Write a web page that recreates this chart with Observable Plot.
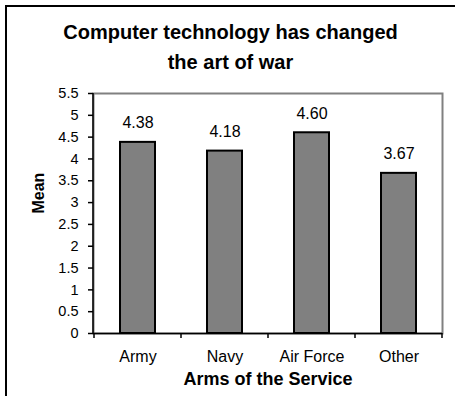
<!DOCTYPE html>
<html>
<head>
<meta charset="utf-8">
<script src="https://cdn.jsdelivr.net/npm/d3@7"></script>
<script src="https://cdn.jsdelivr.net/npm/@observablehq/plot@0.6"></script>
<style>
  html, body { margin: 0; padding: 0; background: #fff; }
  #chart {
    position: relative; width: 455px; height: 396px; overflow: hidden;
    font-family: "Liberation Sans", Arial, sans-serif;
  }
  #chart .border {
    position: absolute; left: 5px; top: 5px; width: 460px; height: 400px;
    border-left: 2px solid #000; border-top: 2px solid #000;
  }
  #chart h1 {
    position: relative; margin: 0; padding-top: 17px; height: 60px;
    font-size: 20px; line-height: 30px; font-weight: bold; text-align: center;
    padding-left: 6px; box-sizing: content-box;
  }
  #chart svg { position: relative; display: block; }
</style>
</head>
<body>
<div id="chart">
  <div class="border"></div>
  <h1>Computer technology has changed<br>the art of war</h1>
</div>
<script>
// Mean agreement by arm of the service
const arms = ["Army", "Navy", "Air Force", "Other"];
const means = [4.38, 4.18, 4.60, 3.67];
const yTicks = [0, 0.5, 1, 1.5, 2, 2.5, 3, 3.5, 4, 4.5, 5, 5.5];
const yLabel = "Mean";
const xLabel = "Arms of the Service";

const data = arms.map((arm, i) => ({arm, mean: means[i]}));

// Left axis line plus tick marks at the boundaries between category bands
function bandEdges(index, scales, values, dims) {
  const x = scales.x;
  const y0 = dims.height - dims.marginBottom;
  const domain = x.domain();
  let step, bw;
  if (typeof x.step === "function") { step = x.step(); bw = x.bandwidth(); }
  else {
    step = (dims.width - dims.marginLeft - dims.marginRight) / domain.length;
    bw = step * 0.4;
  }
  const gap = (step - bw) / 2;
  const edges = domain.map(d => x(d) - gap);
  edges.push(x(domain[domain.length - 1]) + bw + gap);
  const g = d3.create("svg:g").attr("stroke", "#000").attr("stroke-width", 1.5);
  g.selectAll("line.edge").data(edges).join("line")
    .attr("class", "edge")
    .attr("x1", d => d).attr("x2", d => d)
    .attr("y1", y0).attr("y2", y0 + 5);
  g.append("line")
    .attr("x1", dims.marginLeft).attr("x2", dims.marginLeft)
    .attr("y1", dims.marginTop).attr("y2", y0);
  return g.node();
}

const chart = Plot.plot({
  width: 455,
  height: 319,
  marginLeft: 93,
  marginRight: 13,
  marginTop: 16,
  marginBottom: 63,
  style: {
    fontFamily: "'Liberation Sans', Arial, sans-serif",
    fontSize: "15px",
    background: "transparent",
    color: "#000",
    overflow: "visible"
  },
  x: {domain: arms, paddingInner: 0.6, paddingOuter: 0.3, label: null},
  y: {domain: [0, 5.5], label: null},
  marks: [
    Plot.frame({stroke: "#808080", strokeWidth: 2}),
    Plot.barY(data, {x: "arm", y: "mean", fill: "#808080", stroke: "#000", strokeWidth: 2}),
    Plot.text(data, {x: "arm", y: "mean", text: d => d.mean.toFixed(2), dy: -19, fontSize: 16}),
    Plot.ruleY([0], {stroke: "#000", strokeWidth: 1.5}),
    bandEdges,
    Plot.axisY({ticks: yTicks, tickFormat: d => String(d), tickSize: 5, tickPadding: 10, fontSize: 14.5, label: null, strokeWidth: 1.5}),
    Plot.axisX({tickSize: 0, tickPadding: 17, fontSize: 16, label: null}),
    Plot.text([yLabel], {frameAnchor: "left", dx: -55, rotate: -90, fontWeight: "bold", fontSize: 16}),
    Plot.text([xLabel], {frameAnchor: "bottom", lineAnchor: "middle", dy: 46, fontWeight: "bold", fontSize: 18})
  ]
});

document.getElementById("chart").appendChild(chart);
</script>
</body>
</html>
